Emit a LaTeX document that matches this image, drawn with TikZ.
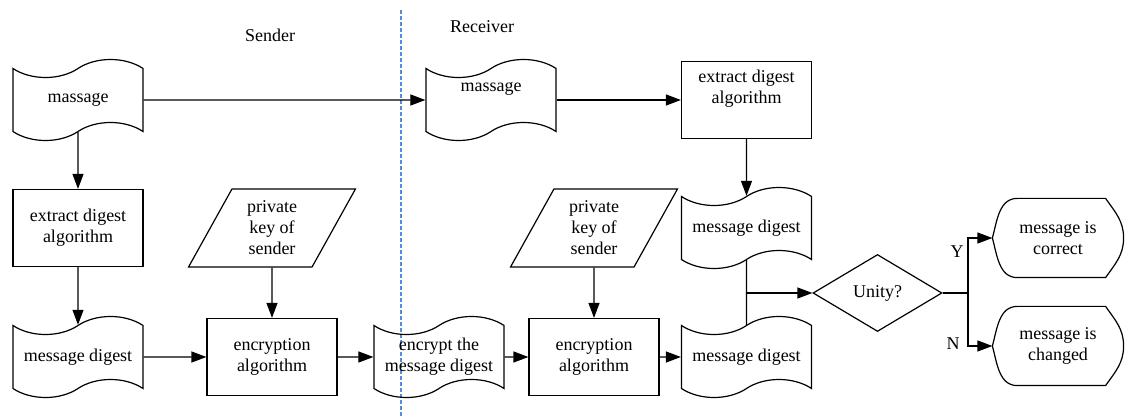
\documentclass[tikz,border=0pt]{standalone}
\usepackage{fontspec}
\setmainfont{Liberation Serif}
\usetikzlibrary{arrows.meta,shapes.geometric,shapes.symbols,calc}
\definecolor{laneblue}{RGB}{80,140,225}

\begin{document}
\begin{tikzpicture}[x=0.5pt,y=-0.5pt,
	font=\fontsize{9}{10.5}\selectfont, line width=0.6pt,
	arr/.style={-{Triangle[length=7.5pt,width=5.5pt]}},
	proc/.style={draw, rectangle, minimum width=65pt, minimum height=38.5pt, align=center, inner sep=1pt},
	doc/.style={draw, tape, minimum width=65pt, minimum height=40.5pt, tape bend height=9pt, align=center, inner sep=1pt},
	io/.style={draw, trapezium, trapezium left angle=63.4, trapezium right angle=116.6, trapezium stretches=true, minimum width=83.5pt, minimum height=39pt, align=center, inner sep=0pt},
	test/.style={draw, diamond, minimum width=64.5pt, minimum height=38.5pt, inner sep=0pt},
	ending/.style={minimum width=65pt, minimum height=39pt, align=center, inner sep=0pt},
	divider/.style={draw=laneblue, line width=0.7pt, dash pattern=on 2pt off 1pt}]
%
	\useasboundingbox (0,0) rectangle (1132,417);
	\draw[divider] (401,10) -- (401,417);
	\node (snd) at (270,35) {Sender};
	\node (rcv) at (482,27) {Receiver};
%
	\node[doc] (msgS) at (78,100) {massage};
	\node[proc] (xS) at (78,228) {extract digest\\algorithm};
	\node[doc] (mdS) at (78,357) {message digest};
	\node[io] (pkS) at (272,228) {private\\key of\\sender};
	\node[proc] (encS) at (272,357) {encryption\\algorithm};
	\node[doc] (encmd) at (439,357) {encrypt the\\message digest};
%
	\node[doc, label={[yshift=5.5pt]center:massage}] (msgR) at (491,100) {};
	\node[proc, label={[align=center,yshift=5.5pt]center:extract digest\\algorithm}] (xR) at (746.5,100) {};
	\node[io] (pkR) at (594,228) {private\\key of\\sender};
	\node[proc] (encR) at (594,357) {encryption\\algorithm};
	\node[doc] (mdR1) at (746.5,228) {message digest};
	\node[doc] (mdR2) at (746.5,357) {message digest};
	\node[test] (unity) at (877.5,293) {Unity?};
	\node[ending] (ok) at (1058,238) {message is\\correct};
	\node[ending] (chg) at (1058,346) {message is\\changed};
	\foreach \n in {ok,chg}
		\draw ($(\n.north west)+(12.5pt,0)$) -- ($(\n.north east)+(-9pt,0)$)
			to[out=-55,in=90] (\n.east) to[out=-90,in=55] ($(\n.south east)+(-9pt,0)$)
			-- ($(\n.south west)+(12.5pt,0)$) to[out=180,in=-75] (\n.west)
			to[out=75,in=180] ($(\n.north west)+(12.5pt,0)$) -- cycle;
%
	\draw[arr] (msgS) -- (msgR);
	\draw[arr] (msgR) -- (xR);
	\draw[arr] (msgS) -- (xS);
	\draw[arr] (xS) -- (mdS);
	\draw[arr] (mdS) -- (encS);
	\draw[arr] (pkS) -- (encS);
	\draw[arr] (encS) -- (encmd);
	\draw[arr] (encmd) -- (encR);
	\draw[arr] (pkR) -- (encR);
	\draw[arr] (encR) -- (mdR2);
	\draw[arr] (xR) -- (mdR1);
	\draw (mdR1) -- (mdR2);
	\draw[arr] (mdR1 |- unity) -- (unity);
	\coordinate (fork) at (968,293);
	\draw (unity) -- (fork);
	\draw[arr] (fork) |- (ok);
	\draw[arr] (fork) |- (chg);
	\node (yes) at (957,252) {Y};
	\node (no) at (953,344) {N};
\end{tikzpicture}
\end{document}
